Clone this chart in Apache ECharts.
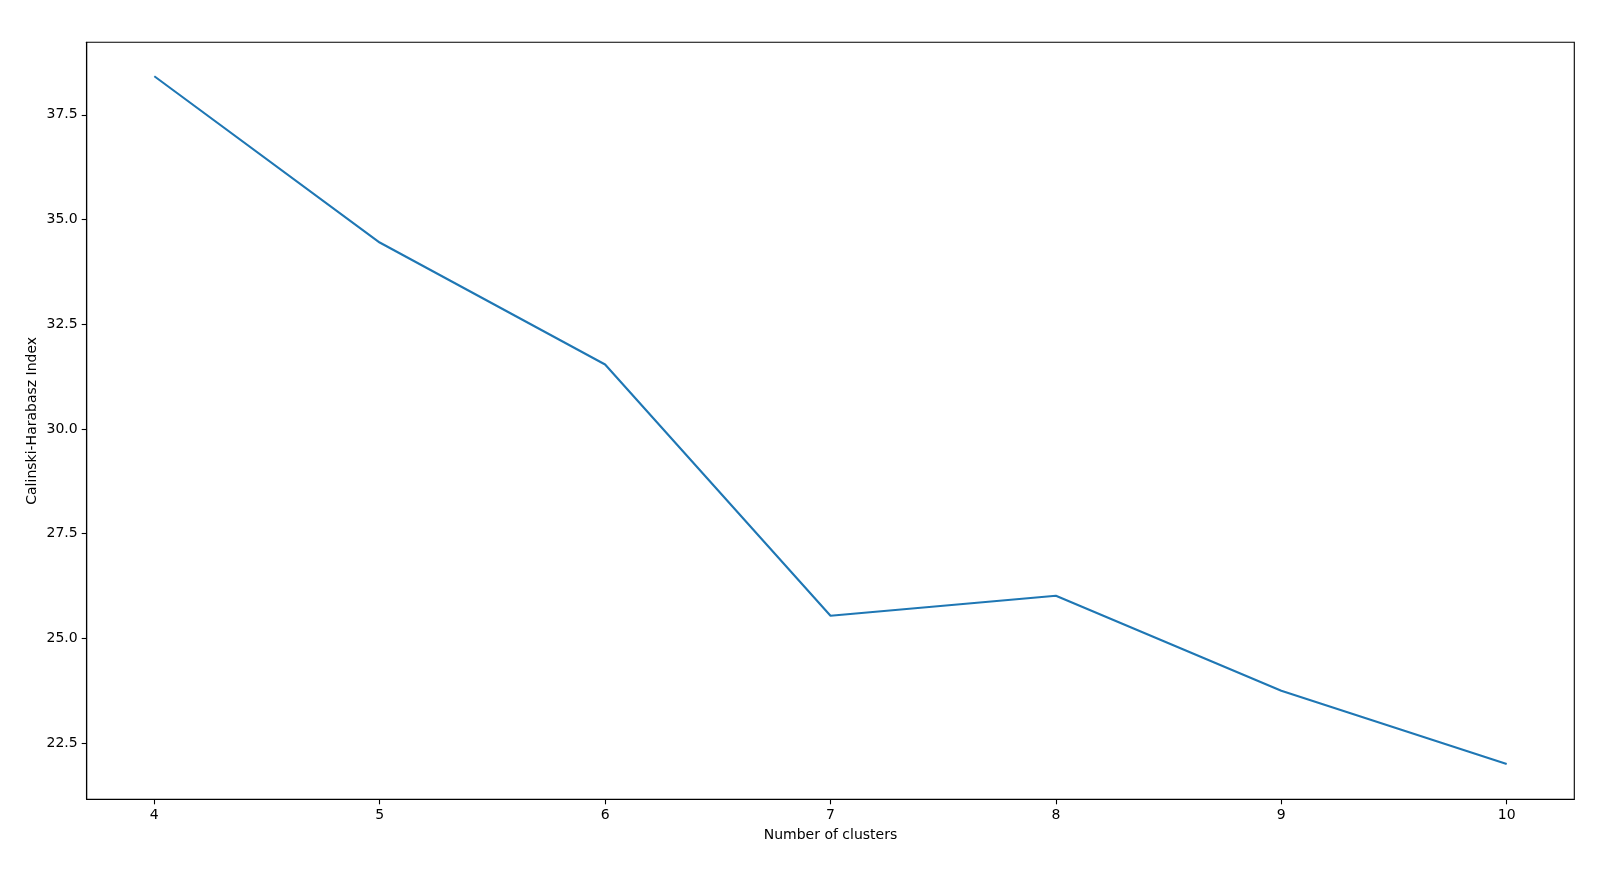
<!DOCTYPE html>
<html>
<head>
<meta charset="utf-8">
<script src="https://cdn.jsdelivr.net/npm/echarts@6/dist/echarts.min.js"></script>
<style>
    html, body { margin: 0; padding: 0; background: #fff; }
    #myChart { width: 1616px; height: 872px; }
</style>
</head>
<body>
<div id="myChart"></div>
<script>
    // number of clusters vs Calinski-Harabasz score
    const clusters = [4, 5, 6, 7, 8, 9, 10];
    const chScores = [38.42, 34.45, 31.54, 25.54, 26.02, 23.75, 22.0];
    const xTicks = [4, 5, 6, 7, 8, 9, 10];
    const yTicks = [22.5, 25.0, 27.5, 30.0, 32.5, 35.0, 37.5];

    const font = 'DejaVu Sans';
    const points = clusters.map((c, i) => [c, chScores[i]]);

    let myChart = echarts.init(document.getElementById('myChart'));
    myChart.setOption({
        animation: false,
        grid: {
            left: 86.7,
            right: 41.7,
            top: 42.3,
            bottom: 72.7,
            show: true,
            borderColor: '#000',
            borderWidth: 1.1
        },
        xAxis: {
            type: 'value',
            min: 3.7,
            max: 10.3,
            name: 'Number of clusters',
            nameLocation: 'middle',
            nameGap: 29,
            nameMoveOverlap: false,
            nameTextStyle: { fontFamily: font, fontSize: 14, color: '#000' },
            axisLine: { show: true, lineStyle: { color: '#000', width: 1.1 } },
            axisTick: { show: true, length: 5, customValues: xTicks, lineStyle: { color: '#000', width: 1.1 } },
            axisLabel: { customValues: xTicks, margin: 9, fontFamily: font, fontSize: 14, color: '#000' },
            splitLine: { show: false }
        },
        yAxis: {
            type: 'value',
            min: 21.16,
            max: 39.23,
            name: 'Calinski-Harabasz Index',
            nameLocation: 'middle',
            nameGap: 47,
            nameMoveOverlap: false,
            nameTextStyle: { fontFamily: font, fontSize: 14, color: '#000' },
            axisLine: { show: true, lineStyle: { color: '#000', width: 1.1 } },
            axisTick: { show: true, length: 5, customValues: yTicks, lineStyle: { color: '#000', width: 1.1 } },
            axisLabel: {
                customValues: yTicks,
                margin: 9,
                fontFamily: font,
                fontSize: 14,
                color: '#000',
                formatter: v => v.toFixed(1)
            },
            splitLine: { show: false }
        },
        series: [
            {
                type: 'line',
                data: points,
                showSymbol: false,
                lineStyle: { color: '#1f77b4', width: 2.1 },
                itemStyle: { color: '#1f77b4' }
            }
        ]
    });
</script>
</body>
</html>
